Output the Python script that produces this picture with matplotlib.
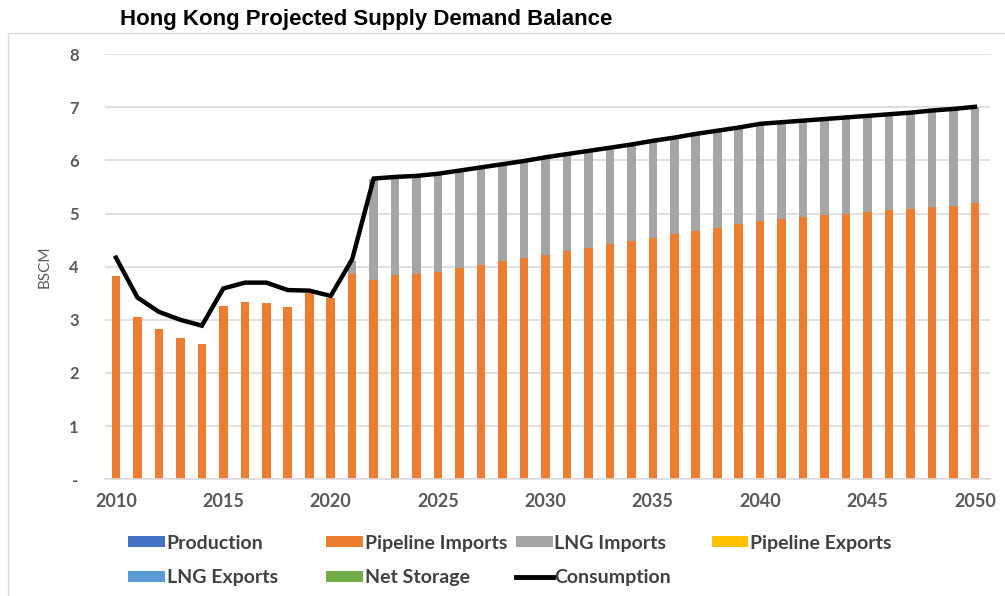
import matplotlib
matplotlib.use("Agg")
import matplotlib.pyplot as plt
from matplotlib.patches import Rectangle, Patch
from matplotlib.lines import Line2D
import numpy as np

# values (BSCM)
years = list(range(2010, 2051))

pipeline_imports = [3.83, 3.06, 2.82, 2.65, 2.55, 3.26, 3.34, 3.32, 3.25, 3.51,
                    3.42, 3.87, 3.75, 3.85, 3.87, 3.90, 3.97, 4.04, 4.10, 4.16,
                    4.22, 4.29, 4.36, 4.42, 4.48, 4.54, 4.61, 4.68, 4.73, 4.80,
                    4.86, 4.90, 4.94, 4.97, 5.00, 5.03, 5.06, 5.09, 5.13, 5.15,
                    5.19]

lng_imports = [0.00, 0.00, 0.00, 0.00, 0.00, 0.00, 0.00, 0.00, 0.00, 0.00,
               0.00, 0.24, 1.91, 1.84, 1.84, 1.85, 1.84, 1.83, 1.83, 1.83,
               1.84, 1.83, 1.82, 1.82, 1.82, 1.83, 1.82, 1.82, 1.83, 1.82,
               1.83, 1.82, 1.81, 1.81, 1.81, 1.81, 1.81, 1.81, 1.81, 1.82,
               1.82]

consumption = [4.17, 3.42, 3.15, 3.00, 2.89, 3.59, 3.70, 3.70, 3.56, 3.55,
               3.45, 4.14, 5.66, 5.69, 5.71, 5.75, 5.81, 5.87, 5.93, 5.99,
               6.06, 6.12, 6.18, 6.24, 6.30, 6.37, 6.43, 6.50, 6.56, 6.62,
               6.69, 6.72, 6.75, 6.78, 6.81, 6.84, 6.87, 6.90, 6.94, 6.97,
               7.01]

legend_names = ["Production", "Pipeline Imports", "LNG Imports", "Pipeline Exports",
                "LNG Exports", "Net Storage", "Consumption"]
legend_colors = ["#4472C4", "#ED7D31", "#A5A5A5", "#FFC000",
                 "#5B9BD5", "#70AD47", "#000000"]

ORANGE = "#ED7D31"
GREY = "#A5A5A5"
TXT = "#595959"

fig = plt.figure(figsize=(10.05, 5.96), dpi=100)
ax = fig.add_axes([0.1045, 0.196, 0.8805, 0.713])

x = np.array(years)
ax.bar(x, pipeline_imports, width=0.4, color=ORANGE, zorder=2)
ax.bar(x, lng_imports, width=0.4, bottom=pipeline_imports, color=GREY, zorder=2)
ax.plot(x, consumption, color="black", lw=3.2, zorder=3, solid_joinstyle="miter")

ax.set_xlim(2009.49, 2050.7)
ax.set_ylim(0, 8)
ax.set_yticks(range(0, 9))
ax.set_yticklabels(["-"] + [str(i) for i in range(1, 9)])
ax.set_xticks(range(2010, 2051, 5))

for lab in ax.get_xticklabels():
    lab.set_fontfamily("Lato")
    lab.set_fontweight("bold")
    lab.set_fontsize(13)
    lab.set_color(TXT)
for lab in ax.get_yticklabels():
    lab.set_fontfamily("Lato")
    lab.set_fontweight("bold")
    lab.set_fontsize(12)
    lab.set_color(TXT)

ax.tick_params(axis="both", length=0)
ax.tick_params(axis="y", pad=19)
ax.tick_params(axis="x", pad=10)
ax.grid(axis="y", color="#D9D9D9", lw=1.2, zorder=0)
for s in ["top", "right", "left"]:
    ax.spines[s].set_visible(False)
ax.spines["bottom"].set_color("#D9D9D9")
ax.spines["bottom"].set_linewidth(1.2)

ax.set_ylabel("BSCM", fontfamily="Lato", fontsize=11, color=TXT)
ax.yaxis.set_label_coords(-0.06, 0.5)

fig.text(0.119, 0.968, "Hong Kong Projected Supply Demand Balance",
         fontfamily="Liberation Sans", fontweight="bold", fontsize=16,
         color="black", va="center")

# outer chart frame
fig.patches.append(Rectangle((0.008, -0.01), 1.0, 0.955, transform=fig.transFigure,
                             fill=False, edgecolor="#D9D9D9", lw=1.0))

# legend in four columns, placed like Excel
handles = []
for name, col in zip(legend_names, legend_colors):
    if name == "Consumption":
        handles.append(Line2D([0], [0], color=col, lw=3.5))
    else:
        handles.append(Patch(facecolor=col, edgecolor="none"))

columns = [[0, 4], [1, 5], [2, 6], [3]]
col_x = [0.127, 0.324, 0.513, 0.708]
for cx, idx in zip(col_x, columns):
    leg = fig.legend([handles[i] for i in idx], [legend_names[i] for i in idx],
                     loc="upper left", bbox_to_anchor=(cx, 0.103), frameon=False,
                     prop={"family": "Lato", "size": 14, "weight": "bold"},
                     handlelength=1.9, handleheight=0.5, handletextpad=0.1,
                     labelspacing=0.9, borderaxespad=0, borderpad=0)
    for t in leg.get_texts():
        t.set_color("#404040")

fig.savefig("out.png", dpi=100, facecolor="white")
